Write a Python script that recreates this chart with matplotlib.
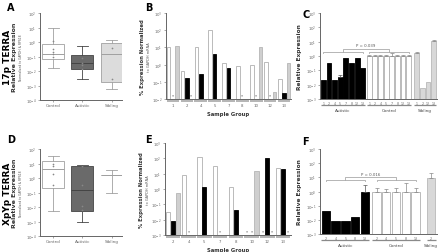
import numpy as np
import matplotlib
matplotlib.use("Agg")
import matplotlib.pyplot as plt

# ---------------- data ----------------
box_groups = ["Control", "Autistic", "Sibling"]
# Panel A (17p TERRA) box statistics
a_whislo = [0.016, 0.0028, 0.00058]
a_q1 = [0.069, 0.014, 0.0017]
a_med = [0.15, 0.035, 0.15]
a_q3 = [0.76, 0.12, 0.83]
a_whishi = [9.5, 0.5, 1.3]
a_points = [[1.15, 0.32, 0.2, 0.15, 0.09], [0.077, 0.035, 0.024, 0.014], [0.38, 0.0028]]
# Panel D (XpYp TERRA) box statistics
d_whislo = [0.005, 0.001, 0.1]
d_q1 = [0.19, 0.005, 1.55]
d_med = [4.4, 0.15, 1.55]
d_q3 = [14.5, 6.3, 1.55]
d_whishi = [32, 7.4, 3.4]
d_points = [[8.7, 6.6, 2.0, 0.32], [6.3, 0.32, 0.012, 0.006], []]

# Panel B (17p, per sample group, % expression)
b_groups = ["1", "2", "4", "5", "7", "8", "10", "12", "13"]
b_control = [10, 0.4, 11, 100, 1.26, 0.8, 1.0, 1.45, 0.14]
b_autistic = [np.nan, 0.16, 0.28, 4, 0.63, np.nan, np.nan, np.nan, 0.022]
b_sibling = [11.5, np.nan, np.nan, np.nan, np.nan, np.nan, 11, 0.025, 1.2]
b_stars = [(0, 1), (1, 2), (5, 1), (6, 1), (7, 1)]  # (group, slot) not detected

# Panel E (XpYp, per sample group)
e_groups = ["2", "4", "5", "7", "8", "10", "12", "13"]
e_control = [0.034, 7.8, 115, 32, 1.35, np.nan, np.nan, 25]
e_autistic = [0.008, np.nan, 1.35, np.nan, 0.04, np.nan, 110, 21]
e_sibling = [0.52, np.nan, np.nan, np.nan, np.nan, 14, np.nan, np.nan]
e_stars = [(1, 1), (3, 1), (5, 0), (5, 1), (6, 0), (6, 2), (7, 2)]

# Panel C (17p relative expression)
c_aut_labels = ["1", "2", "4", "5", "7", "8", "12", "13"]
c_aut = [0.021, 0.34, 0.021, 0.036, 0.76, 0.30, 0.76, 0.15]
c_aut_err = [0, 0, 0, 0.012, 0, 0, 0, 0]
c_con_labels = ["1", "2", "4", "5", "7", "8", "12", "13"]
c_con = [1, 1, 1, 1, 1, 1, 1, 1]
c_con_err = [0.1, 0.15, 0.2, 0.15, 0.6, 0.2, 0.2, 0.15]
c_sib_labels = ["1", "2", "12", "13"]
c_sib = [1.7, 0.006, 0.016, 11]
c_sib_err = [0.3, 0, 0, 3]
c_p = "P = 0.039"

# Panel F (XpYp relative expression)
f_aut_labels = ["2", "4", "5", "8", "13"]
f_aut = [0.044, 0.0077, 0.0077, 0.016, 0.95]
f_aut_err = [0, 0, 0, 0, 1.85]
f_con_labels = ["2", "4", "5", "8", "13"]
f_con = [1, 1, 1, 1, 1]
f_con_err = [0.9, 0.5, 0.9, 3.3, 0.9]
f_sib_labels = ["2"]
f_sib = [8.3]
f_sib_err = [12]
f_p = "P = 0.016"

# ---------------- style ----------------
W, H = 440, 253
fig = plt.figure(figsize=(4.4, 2.53), dpi=100)
plt.rcParams['font.family'] = ['DejaVu Sans']

SP = '#666666'
WHITE_EDGE = '#b0b0b0'
DARK = '#6a6a6a'


def rect(l, r, t, b):
    return [l / W, 1 - b / H, (r - l) / W, (b - t) / H]


def style(ax, lo, hi):
    ax.set_yscale('log')
    ax.set_ylim(10.0 ** lo, 10.0 ** hi)
    for s in ['top', 'right']:
        ax.spines[s].set_visible(False)
    for s in ['left', 'bottom']:
        ax.spines[s].set_color(SP)
        ax.spines[s].set_linewidth(0.7)
    ax.tick_params(axis='both', labelsize=2.8, length=1.5, width=0.4, colors=SP, pad=1)
    ax.set_yticks([10.0 ** k for k in range(lo, hi + 1)])
    ax.yaxis.set_minor_locator(matplotlib.ticker.NullLocator())


def box_panel(rc, whislo, q1, med, q3, whishi, points, lo, hi, title):
    ax = fig.add_axes(rc)
    style(ax, lo, hi)
    stats = []
    for i in range(3):
        stats.append(dict(med=med[i], q1=q1[i], q3=q3[i], whislo=whislo[i],
                          whishi=whishi[i], fliers=[]))
    fills = ['white', DARK, '#dcdcdc']
    edges = ['#a0a0a0', '#444444', '#a0a0a0']
    bp = ax.bxp(stats, positions=[1, 2, 3], widths=0.75, patch_artist=True,
                showfliers=False)
    for i, b in enumerate(bp['boxes']):
        b.set_facecolor(fills[i]); b.set_edgecolor(edges[i]); b.set_linewidth(0.6)
    for i, m in enumerate(bp['medians']):
        m.set_color(edges[i]); m.set_linewidth(0.7)
    for k, w in enumerate(bp['whiskers']):
        w.set_color(edges[k // 2]); w.set_linewidth(0.6)
    for k, c in enumerate(bp['caps']):
        c.set_color(edges[k // 2]); c.set_linewidth(0.6)
    for i, pts in enumerate(points):
        ax.scatter([i + 1] * len(pts), pts, s=1.5, color='#888888', zorder=3, linewidths=0)
    ax.set_xlim(0.55, 3.35)
    ax.set_xticks([1, 2, 3])
    ax.set_xticklabels(box_groups, fontsize=3)
    ax.set_ylabel("Relative Expression", fontsize=4.5, fontweight='bold', labelpad=6, color='#333333')
    ax.text(-0.23, 0.5, "Normalized to GAPDH & RPS18", transform=ax.transAxes, rotation=90,
            fontsize=2.2, ha='center', va='center', color='#555555')
    fig.text(rc[0] - 0.075, rc[1] + rc[3] * 0.5, title, rotation=90, fontsize=6.5,
             fontweight='bold', ha='center', va='center')
    return ax


def group_panel(rc, groups, con, aut, sib, stars, lo, hi):
    ax = fig.add_axes(rc)
    style(ax, lo, hi)
    ylo = 10.0 ** lo
    pitch = 3.2
    n = len(groups)
    centers = np.arange(n) * pitch
    series = [(con, 'white', WHITE_EDGE), (aut, 'black', 'black'), (sib, '#cfcfcf', '#b5b5b5')]
    for s, (vals, fc, ec) in enumerate(series):
        v = np.array(vals, dtype=float)
        x = centers + (s - 1)
        ok = ~np.isnan(v)
        ax.bar(x[ok], v[ok] - ylo, bottom=ylo, width=0.85, color=fc, edgecolor=ec, linewidth=0.6)
    for g, s in stars:
        ax.text(centers[g] + s - 1, ylo * 1.6, "*", fontsize=3, ha='center', va='center', color='#333333')
    ax.set_xlim(-1.6, centers[-1] + 1.6)
    ax.set_xticks(centers)
    ax.set_xticklabels(groups, fontsize=2.8)
    ax.tick_params(axis='x', length=0, pad=3)
    for c in centers:
        ax.plot([c - 1.45, c + 1.45], [-0.02, -0.02], transform=ax.get_xaxis_transform(),
                color='#a8a8a8', lw=1.2, clip_on=False, solid_capstyle='butt')
    ax.set_xlabel("Sample Group", fontsize=3.8, fontweight='bold', labelpad=2.5, color='#333333')
    ax.set_ylabel("% Expression Normalized", fontsize=3.8, fontweight='bold', labelpad=5, color='#333333')
    ax.text(-0.135, 0.5, "to GAPDH mRNA", transform=ax.transAxes, rotation=90,
            fontsize=2.5, ha='center', va='center', color='#555555')
    return ax


def rel_panel(rc, sets, gaps, ptext, lo, hi, yb1, yb2, ytext):
    ax = fig.add_axes(rc)
    style(ax, lo, hi)
    ylo = 10.0 ** lo
    colors = [('black', 'black'), ('white', WHITE_EDGE), ('#d8d8d8', '#b8b8b8')]
    names = ["Autistic", "Control", "Sibling"]
    start = 0.0
    spans = []
    allx, alll = [], []
    for k, (labels, vals, errs) in enumerate(sets):
        x = start + np.arange(len(vals))
        fc, ec = colors[k]
        ax.bar(x, np.array(vals) - ylo, bottom=ylo, width=0.86, color=fc, edgecolor=ec, linewidth=0.6)
        e = np.array(errs, dtype=float)
        m = e > 0
        if m.any():
            ax.errorbar(x[m], np.array(vals)[m], yerr=[np.zeros(m.sum()), e[m]], fmt='none',
                        ecolor='#888888' if k else '#555555', elinewidth=0.5, capsize=1.2, capthick=0.5)
        spans.append((x[0], x[-1]))
        allx += list(x); alll += list(labels)
        if k < len(gaps):
            start = x[-1] + 1 + gaps[k]
    ax.set_xticks(allx)
    ax.set_xticklabels(alll, fontsize=2.3)
    ax.tick_params(axis='x', length=0, pad=1.5)
    tr = ax.get_xaxis_transform()
    for k, (a, b) in enumerate(spans):
        ax.plot([a - 0.45, b + 0.45], [-0.075, -0.075], transform=tr, color='#8a8a8a', lw=0.9,
                clip_on=False, solid_capstyle='butt')
        ax.text((a + b) / 2, -0.13, names[k], transform=tr, fontsize=3, ha='center', va='center',
                color='#444444')
    ax.set_xlim(-0.6, spans[-1][1] + 0.6)
    # significance bracket between autistic and control
    bc = '#aaaaaa'
    for (a, b) in spans[:2]:
        ax.plot([a, a, b, b], [yb1 / 1.25, yb1, yb1, yb1 / 1.25], color=bc, lw=0.6)
    c1 = sum(spans[0]) / 2; c2 = sum(spans[1]) / 2
    ax.plot([c1, c1, c2, c2], [yb1, yb2, yb2, yb1], color=bc, lw=0.6)
    ax.text((c1 + c2) / 2, ytext, ptext, fontsize=2.8, ha='center', va='bottom', color='#555555')
    ax.set_ylabel("Relative Expression", fontsize=4.2, fontweight='bold', labelpad=3, color='#333333')
    return ax


# Panel A
box_panel(rect(40, 122, 14, 101), a_whislo, a_q1, a_med, a_q3, a_whishi, a_points, -4, 2, "17p TERRA")
# Panel D
box_panel(rect(40, 122, 150, 237), d_whislo, d_q1, d_med, d_q3, d_whishi, d_points, -4, 2, "XpYp TERRA")
# Panel B
group_panel(rect(166, 291, 14, 100), b_groups, b_control, b_autistic, b_sibling, b_stars, -2, 3)
# Panel E
group_panel(rect(165, 291, 144, 236), e_groups, e_control, e_autistic, e_sibling, e_stars, -3, 3)
# Panel C
rel_panel(rect(320, 437, 14, 100),
          [(c_aut_labels, c_aut, c_aut_err), (c_con_labels, c_con, c_con_err), (c_sib_labels, c_sib, c_sib_err)],
          [0.15, 0.45], c_p, -3, 3, 2.0, 3.2, 4.2)
# Panel F
rel_panel(rect(320, 437, 150, 235),
          [(f_aut_labels, f_aut, f_aut_err), (f_con_labels, f_con, f_con_err), (f_sib_labels, f_sib, f_sib_err)],
          [0.2, 0.6], f_p, -3, 3, 7.0, 11.0, 13.0)

# Panel letters
for letter, x, y in [("A", 7, 8), ("B", 145, 8), ("C", 302, 15), ("D", 7, 140), ("E", 145, 140), ("F", 302, 142)]:
    fig.text(x / W, 1 - y / H, letter, fontsize=7, fontweight='bold', ha='left', va='center')

fig.savefig("out.png", dpi=100)
